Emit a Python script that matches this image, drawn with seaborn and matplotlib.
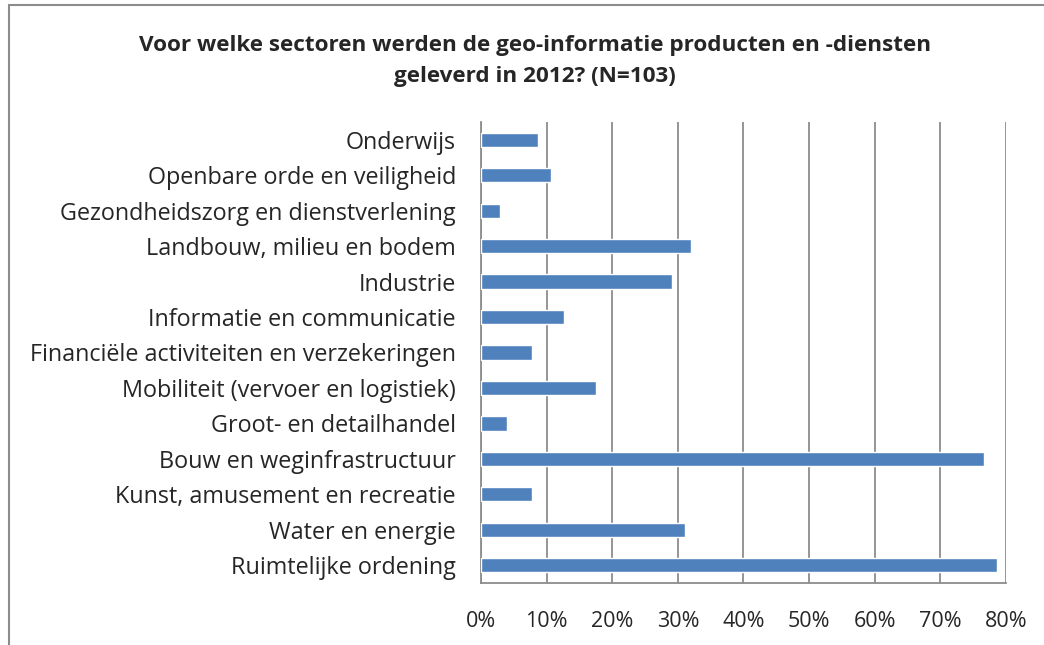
import numpy as np
import pandas as pd
import matplotlib
matplotlib.use("Agg")
import matplotlib.pyplot as plt
import matplotlib.ticker as ticker
from matplotlib.lines import Line2D
import seaborn as sns

# data (share of N=103 respondents, in %)
sectors = [
    "Onderwijs",
    "Openbare orde en veiligheid",
    "Gezondheidszorg en dienstverlening",
    "Landbouw, milieu en bodem",
    "Industrie",
    "Informatie en communicatie",
    "Financiële activiteiten en verzekeringen",
    "Mobiliteit (vervoer en logistiek)",
    "Groot- en detailhandel",
    "Bouw en weginfrastructuur",
    "Kunst, amusement en recreatie",
    "Water en energie",
    "Ruimtelijke ordening",
]
shares = [8.7, 10.7, 2.9, 32.0, 29.1, 12.6, 7.8, 17.5, 3.9, 76.7, 7.8, 31.1, 78.6]
xticks = [0, 10, 20, 30, 40, 50, 60, 70, 80]

df = pd.DataFrame({"sector": sectors, "share": shares})

sns.set_style("white")
plt.rcParams["font.family"] = ["Open Sans", "DejaVu Sans"]

fig = plt.figure(figsize=(10.44, 6.45), dpi=100)
ax = fig.add_axes([0.4607, 0.0961, 0.5029, 0.7148])

sns.barplot(data=df, x="share", y="sector", orient="h", color="#4F81BD",
            saturation=1, width=0.4, ax=ax, zorder=3)

# gridlines like the excel original
ax.set_xlim(0, 80)
ax.set_xticks(xticks)
ax.xaxis.set_major_formatter(ticker.FuncFormatter(lambda v, p: f"{v:.0f}%"))
ax.grid(axis="x", color="#8c8c8c", linewidth=1.3, zorder=0)
ax.set_axisbelow(True)

for side in ["top", "right"]:
    ax.spines[side].set_visible(False)
for side in ["left", "bottom"]:
    ax.spines[side].set_color("#8c8c8c")
    ax.spines[side].set_linewidth(1.3)

ax.tick_params(axis="x", length=0, pad=20, labelsize=15.5)
ax.tick_params(axis="y", length=0, pad=18, labelsize=16.8)
ax.set_xlabel("")
ax.set_ylabel("")

fig.text(0.5125, 0.905, "Voor welke sectoren werden de geo-informatie producten en -diensten\ngeleverd in 2012? (N=103)",
         ha="center", va="center", fontsize=16.2, fontweight="bold", linespacing=1.62)

# chart border: only left and top edges are visible in the crop
fig.add_artist(Line2D([0.0083, 0.0083], [0.0, 0.9925], transform=fig.transFigure,
                      color="#8c8c8c", linewidth=1.5))
fig.add_artist(Line2D([0.0083, 1.0], [0.9925, 0.9925], transform=fig.transFigure,
                      color="#8c8c8c", linewidth=1.5))

fig.savefig("out.png", dpi=100)
